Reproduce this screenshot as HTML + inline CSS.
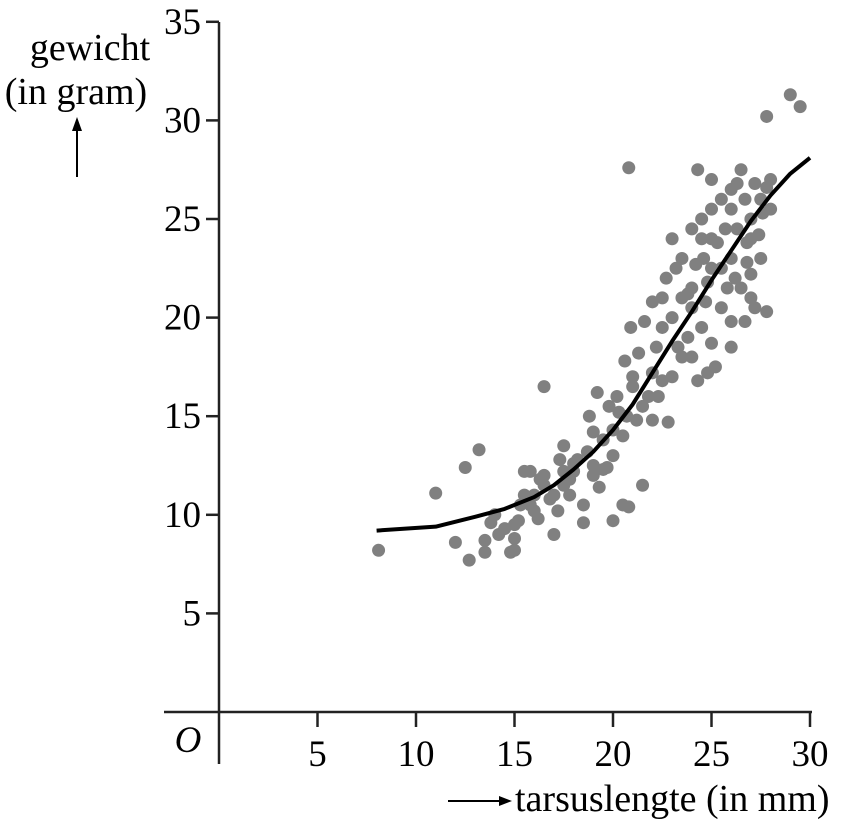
<!DOCTYPE html>
<html><head><meta charset="utf-8"><style>
body{margin:0;background:#fff}
svg{display:block;font-family:"Liberation Serif",serif}
</style></head><body>
<svg id="chart" width="841" height="832" viewBox="0 0 841 832" xmlns="http://www.w3.org/2000/svg">
<g id="dots"></g>
<g id="axes"></g>
<text x="90" y="60" font-size="38" text-anchor="middle">gewicht</text>
<text x="76" y="104" font-size="38" text-anchor="middle">(in gram)</text>
<g><line x1="77" y1="177" x2="77" y2="128" stroke="#000" stroke-width="2"/><polygon points="77,117 72,131 82,131" fill="#000"/></g>
<text x="188" y="752" font-size="37" font-style="italic" text-anchor="middle">O</text>
<g><line x1="448" y1="801" x2="500" y2="801" stroke="#000" stroke-width="2"/><polygon points="512,801 499,796 499,806" fill="#000"/></g>
<text x="515" y="811" font-size="38">tarsuslengte (in mm)</text>
</svg>
<script>
const xTicks=[5,10,15,20,25,30];
const yTicks=[5,10,15,20,25,30,35];
const ptsX=[8.1,11,12,12.5,12.7,13.2,13.5,13.5,13.8,14,14.5,14.8,15,15,15.2,15.3,15.5,15.5,15.8,16,16,16.2,16.5,16.5,16.8,17,17,17.2,17.3,17.5,17.5,17.8,18,18.2,18.5,18.5,18.7,18.8,19,19,19.2,19.3,19.5,19.7,19.8,20,20,20,20.2,20.5,20.5,20.6,20.7,20.8,20.8,20.9,21,21.2,21.3,21.5,21.5,21.6,21.8,22,22,22,22.2,22.5,22.5,22.7,22.8,23,23,23.2,23.3,23.5,23.5,23.8,24,24,24,24,24.2,24.3,24.3,24.5,24.5,24.6,24.8,24.8,25,25,25,25,25.2,25.3,25.5,25.5,25.7,25.8,26,26,26,26,26.2,26.3,26.3,26.5,26.5,26.7,26.7,26.8,27,27,27,27.2,27.2,27.4,27.5,27.5,27.6,27.8,27.8,27.8,28,28,29,29.5,14.2,15,16.5,17.5,18,19,21,22.5,23,23.5,24.5,26,25,27,15.8,16.3,17.8,19.5,20.3,22.3,23.8,25.5,26.8,24.7];
const ptsY=[8.2,11.1,8.6,12.4,7.7,13.3,8.1,8.7,9.6,10,9.3,8.1,8.2,8.8,9.7,10.5,11,12.2,12.2,11,10.2,9.8,16.5,11.5,10.8,9,11,10.2,12.8,11.5,12.2,11.8,12.6,12.8,10.5,9.6,13.2,15,12.5,14.2,16.2,11.4,12.3,12.4,15.5,9.7,13,14.3,16,10.5,14,17.8,15,10.4,27.6,19.5,16.5,14.8,18.2,11.5,15.5,19.8,16,14.8,20.8,17.2,18.5,16.8,19.5,22,14.7,17,20,22.5,18.5,21,23,19,20.5,18,24.5,21.5,22.7,16.8,27.5,19.5,25,23,17.2,21.8,25.5,22.5,18.7,27,17.5,23.8,26,20.5,24.5,21.5,23,25.5,19.8,18.5,22,24.5,26.8,27.5,21.5,26,19.8,23.8,25,22.2,21,26.8,20.5,24.2,26,23,25.3,26.6,20.3,30.2,25.5,27,31.3,30.7,9,9.5,12,13.5,12.2,12,17,21,24,18,24,26.5,24,24,10.5,11.8,11,13.8,15.2,16,21.2,22.5,22.8,20.8];
const curveX=[8,11,13,14.5,16,17,18,19,20,21,22,23,24,25,26,27,28,29,30];
const curveY=[9.2,9.4,9.9,10.3,10.9,11.5,12.3,13.2,14.3,15.6,17.2,18.8,20.3,21.9,23.4,24.9,26.2,27.3,28.1];
const X0=219,XS=19.7,Y0=712,YS=19.72;
const sx=v=>X0+v*XS, sy=v=>Y0-v*YS;
const NS='http://www.w3.org/2000/svg';
const dots=document.getElementById('dots'), axes=document.getElementById('axes');
function mk(t,a,p){const e=document.createElementNS(NS,t);for(const k in a)e.setAttribute(k,a[k]);p.appendChild(e);return e;}
for(let i=0;i<ptsX.length;i++){
 const c=mk('circle',{cx:sx(ptsX[i]),cy:sy(ptsY[i]),r:6.5,fill:'#808080'},dots);
 
 
}
const line=mk('polyline',{points:curveX.map((v,i)=>sx(v)+','+sy(curveY[i])).join(' '),fill:'none',stroke:'#000','stroke-width':4,'stroke-linejoin':'round'},document.getElementById('chart'));


const ya=mk('line',{x1:X0,y1:22,x2:X0,y2:764,stroke:'#222','stroke-width':2.5},axes);


const xa=mk('line',{x1:164,y1:Y0,x2:812,y2:Y0,stroke:'#222','stroke-width':2.5},axes);


xTicks.forEach(v=>{
 const t=mk('line',{x1:sx(v),y1:Y0,x2:sx(v),y2:Y0+15,stroke:'#222','stroke-width':2.5},axes);
 
 
 const l=mk('text',{x:sx(v),y:766,'font-size':37,'text-anchor':'middle'},axes);l.textContent=v;
 
 
});
yTicks.forEach(v=>{
 const t=mk('line',{x1:206,y1:sy(v),x2:X0,y2:sy(v),stroke:'#222','stroke-width':2.5},axes);
 
 
 const l=mk('text',{x:201,y:sy(v)+12,'font-size':37,'text-anchor':'end'},axes);l.textContent=v;
 
 
});
</script>
</body></html>
